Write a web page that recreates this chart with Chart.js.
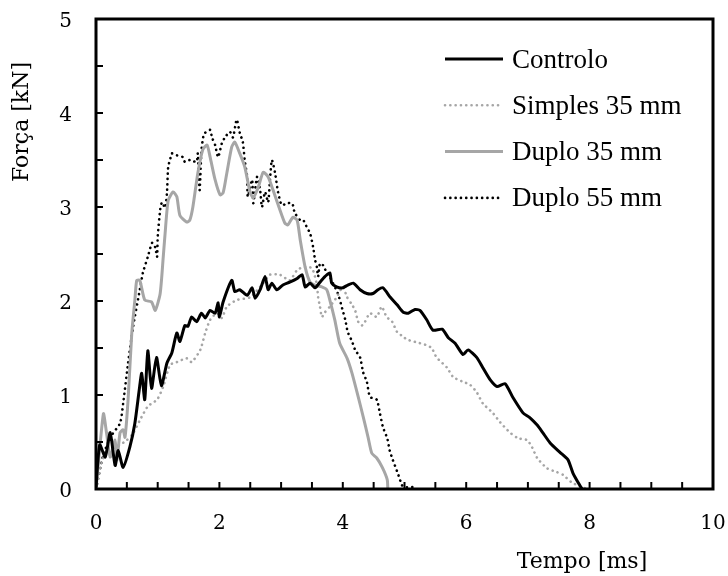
<!DOCTYPE html>
<html>
<head>
<meta charset="utf-8">
<script src="https://cdn.jsdelivr.net/npm/chart.js@4.4.1/dist/chart.umd.min.js"></script>
<style>
  html, body { margin: 0; padding: 0; background: #fff; }
</style>
</head>
<body>
<canvas id="forceChart" width="728" height="576"></canvas>
<script>
// tick labels
const xTickLabels = [0, 2, 4, 6, 8, 10];
const yTickLabels = [0, 1, 2, 3, 4, 5];

// Controlo
const controloT = [0, 0.06, 0.15, 0.23, 0.31, 0.36, 0.44, 0.55, 0.63, 0.70, 0.74, 0.79, 0.84, 0.90, 0.98, 1.06, 1.15, 1.23, 1.31, 1.36, 1.44, 1.49, 1.55, 1.63, 1.71, 1.77, 1.85, 1.93, 1.98, 2.00, 2.06, 2.20, 2.25, 2.33, 2.45, 2.53, 2.58, 2.66, 2.74, 2.79, 2.85, 2.93, 3.03, 3.14, 3.26, 3.34, 3.39, 3.47, 3.55, 3.63, 3.71, 3.79, 3.82, 3.90, 4.00, 4.08, 4.17, 4.28, 4.39, 4.49, 4.57, 4.65, 4.77, 4.88, 4.98, 5.06, 5.17, 5.25, 5.36, 5.46, 5.61, 5.71, 5.82, 5.95, 6.03, 6.17, 6.27, 6.39, 6.50, 6.63, 6.76, 6.92, 7.03, 7.15, 7.24, 7.36, 7.52, 7.65, 7.73, 7.84, 7.88];
const controloF = [0.02, 0.47, 0.34, 0.60, 0.25, 0.41, 0.23, 0.45, 0.70, 1.05, 1.23, 0.95, 1.47, 1.07, 1.40, 1.10, 1.34, 1.45, 1.66, 1.57, 1.74, 1.73, 1.83, 1.78, 1.87, 1.82, 1.90, 1.87, 1.98, 1.83, 1.99, 2.22, 2.10, 2.12, 2.06, 2.14, 2.03, 2.12, 2.26, 2.12, 2.19, 2.12, 2.17, 2.20, 2.24, 2.28, 2.15, 2.19, 2.14, 2.20, 2.26, 2.30, 2.19, 2.15, 2.14, 2.17, 2.19, 2.12, 2.08, 2.08, 2.12, 2.14, 2.04, 1.96, 1.88, 1.87, 1.91, 1.90, 1.80, 1.69, 1.70, 1.61, 1.55, 1.43, 1.48, 1.40, 1.29, 1.16, 1.09, 1.12, 0.97, 0.81, 0.76, 0.68, 0.60, 0.49, 0.39, 0.31, 0.17, 0.04, 0];

// Simples 35 mm
const simplesT = [0, 0.1, 0.2, 0.34, 0.5, 0.6, 0.71, 0.84, 0.99, 1.09, 1.2, 1.31, 1.47, 1.55, 1.69, 1.77, 1.85, 1.96, 2.04, 2.12, 2.28, 2.5, 2.71, 2.82, 2.98, 3.14, 3.26, 3.36, 3.5, 3.58, 3.6, 3.63, 3.66, 3.71, 3.79, 3.9, 4.0, 4.07, 4.15, 4.2, 4.25, 4.31, 4.36, 4.44, 4.55, 4.63, 4.71, 4.8, 4.88, 4.98, 5.04, 5.2, 5.36, 5.44, 5.52, 5.69, 5.79, 5.95, 6.06, 6.17, 6.27, 6.43, 6.55, 6.71, 6.84, 6.99, 7.07, 7.15, 7.31, 7.47, 7.57, 7.71, 7.87, 7.97];
const simplesF = [0, 0.30, 0.42, 0.45, 0.52, 0.59, 0.73, 0.88, 0.95, 1.09, 1.32, 1.35, 1.39, 1.35, 1.48, 1.66, 1.80, 1.87, 1.82, 1.94, 2.01, 2.04, 2.19, 2.28, 2.28, 2.22, 2.33, 2.36, 2.35, 2.17, 2.04, 1.94, 1.83, 1.88, 1.94, 2.04, 2.15, 2.04, 1.96, 1.90, 1.78, 1.74, 1.78, 1.87, 1.83, 1.94, 1.83, 1.78, 1.67, 1.62, 1.59, 1.56, 1.53, 1.50, 1.40, 1.29, 1.19, 1.14, 1.11, 1.03, 0.91, 0.81, 0.71, 0.60, 0.54, 0.52, 0.44, 0.33, 0.22, 0.18, 0.15, 0.07, 0.02, 0];

// Duplo 35 mm
const duplo35T = [0, 0.12, 0.17, 0.23, 0.31, 0.34, 0.39, 0.44, 0.47, 0.52, 0.58, 0.63, 0.66, 0.71, 0.79, 0.9, 0.96, 1.04, 1.09, 1.12, 1.17, 1.25, 1.31, 1.36, 1.47, 1.52, 1.57, 1.65, 1.73, 1.8, 1.85, 1.93, 2.01, 2.06, 2.12, 2.2, 2.25, 2.33, 2.41, 2.5, 2.55, 2.63, 2.71, 2.79, 2.87, 2.98, 3.06, 3.11, 3.19, 3.26, 3.31, 3.39, 3.47, 3.55, 3.66, 3.74, 3.79, 3.87, 3.95, 4.07, 4.15, 4.25, 4.33, 4.41, 4.47, 4.55, 4.64, 4.72, 4.73];
const duplo35F = [0, 0.80, 0.60, 0.34, 0.52, 0.31, 0.60, 0.63, 0.55, 0.95, 1.66, 2.01, 2.22, 2.22, 2.01, 1.99, 1.90, 2.08, 2.47, 2.72, 3.07, 3.16, 3.11, 2.91, 2.84, 2.86, 3.00, 3.36, 3.61, 3.66, 3.53, 3.29, 3.13, 3.15, 3.36, 3.64, 3.69, 3.57, 3.43, 3.15, 3.10, 3.21, 3.37, 3.32, 3.18, 2.97, 2.83, 2.81, 2.89, 2.86, 2.65, 2.36, 2.20, 2.17, 2.15, 2.12, 2.01, 1.80, 1.55, 1.39, 1.23, 0.98, 0.77, 0.55, 0.38, 0.33, 0.23, 0.10, 0];

// Duplo 55 mm
const duplo55T = [0, 0.11, 0.23, 0.39, 0.44, 0.52, 0.6, 0.71, 0.76, 0.84, 0.91, 0.96, 0.99, 1.0, 1.04, 1.07, 1.12, 1.15, 1.17, 1.2, 1.23, 1.31, 1.41, 1.44, 1.52, 1.63, 1.65, 1.68, 1.71, 1.75, 1.8, 1.85, 1.88, 1.93, 1.98, 2.04, 2.09, 2.17, 2.22, 2.28, 2.33, 2.38, 2.41, 2.45, 2.46, 2.53, 2.55, 2.61, 2.66, 2.69, 2.74, 2.79, 2.82, 2.85, 2.9, 2.95, 3.01, 3.1, 3.18, 3.22, 3.31, 3.36, 3.42, 3.47, 3.52, 3.55, 3.58, 3.6, 3.63, 3.68, 3.74, 3.79, 3.84, 3.92, 3.99, 4.04, 4.08, 4.15, 4.2, 4.28, 4.33, 4.39, 4.44, 4.55, 4.6, 4.65, 4.72, 4.76, 4.81, 4.89, 4.96, 5.0, 5.17];
const duplo55F = [0, 0.34, 0.55, 0.70, 0.91, 1.34, 1.72, 2.12, 2.30, 2.47, 2.62, 2.57, 2.47, 2.68, 2.97, 3.05, 2.99, 3.15, 3.43, 3.50, 3.57, 3.55, 3.53, 3.48, 3.50, 3.48, 3.57, 3.18, 3.61, 3.78, 3.80, 3.82, 3.74, 3.66, 3.53, 3.68, 3.74, 3.80, 3.74, 3.93, 3.79, 3.69, 3.50, 3.32, 3.11, 3.29, 3.04, 3.32, 3.18, 3.00, 3.16, 3.05, 3.29, 3.50, 3.37, 3.16, 3.02, 3.04, 3.04, 2.94, 2.86, 2.86, 2.78, 2.72, 2.57, 2.44, 2.36, 2.26, 2.40, 2.38, 2.30, 2.26, 2.19, 2.08, 1.92, 1.80, 1.67, 1.57, 1.48, 1.40, 1.24, 1.14, 0.98, 0.95, 0.81, 0.66, 0.54, 0.41, 0.31, 0.17, 0.04, 0.02, 0.02];

const GRAY = "#a6a6a6";
const pts = (t, f) => t.map((v, i) => ({ x: v, y: f[i] }));

const ctx = document.getElementById("forceChart").getContext("2d");

// frame, inward tick marks, legend and axis titles
const decorations = {
  id: "decorations",
  afterDraw(chart) {
    const { ctx, chartArea: a, scales } = chart;
    ctx.save();
    ctx.strokeStyle = "#000";
    ctx.lineWidth = 2;
    scales.x.ticks.forEach((t) => {
      const px = scales.x.getPixelForValue(t.value);
      ctx.beginPath();
      ctx.moveTo(px, a.bottom);
      ctx.lineTo(px, a.bottom - 7);
      ctx.stroke();
    });
    scales.y.ticks.forEach((t) => {
      const py = scales.y.getPixelForValue(t.value);
      ctx.beginPath();
      ctx.moveTo(a.left, py);
      ctx.lineTo(a.left + 7, py);
      ctx.stroke();
    });
    ctx.lineWidth = 3;
    ctx.strokeRect(a.left, a.top, a.right - a.left, a.bottom - a.top);

    // legend
    chart.data.datasets.forEach((ds, i) => {
      const y = 59 + i * 46.3;
      ctx.save();
      ctx.strokeStyle = ds.borderColor;
      ctx.lineWidth = ds.borderWidth;
      ctx.lineCap = ds.borderCapStyle || "butt";
      ctx.setLineDash(ds.borderDash || []);
      ctx.beginPath();
      ctx.moveTo(445, y);
      ctx.lineTo(503, y);
      ctx.stroke();
      ctx.restore();
      ctx.fillStyle = "#000";
      ctx.font = '27px "Liberation Serif"';
      ctx.textAlign = "left";
      ctx.textBaseline = "alphabetic";
      ctx.fillText(ds.label, 512, y + 8.5);
    });

    // axis titles
    ctx.fillStyle = "#000";
    ctx.font = '22px "DejaVu Serif"';
    ctx.textAlign = "center";
    ctx.textBaseline = "middle";
    ctx.fillText("Tempo [ms]", 582, 562);
    ctx.translate(22, 122);
    ctx.rotate(-Math.PI / 2);
    ctx.fillText("Força [kN]", 0, 0);
    ctx.restore();
  },
};

const line = (label, t, f, color, dotted) => ({
  label: label,
  data: pts(t, f),
  borderColor: color,
  borderWidth: dotted ? 2.6 : 3,
  borderDash: dotted ? [0.1, 5.2] : [],
  borderCapStyle: dotted ? "round" : "butt",
  borderJoinStyle: "round",
  pointRadius: 0,
  tension: 0.2,
  fill: false,
});

const forceChart = new Chart(ctx, {
  type: "line",
  data: {
    datasets: [
      line("Controlo", controloT, controloF, "#000", false),
      line("Simples 35 mm", simplesT, simplesF, GRAY, true),
      line("Duplo 35 mm", duplo35T, duplo35F, GRAY, false),
      line("Duplo 55 mm", duplo55T, duplo55F, "#000", true),
    ],
  },
  options: {
    responsive: false,
    animation: false,
    layout: { padding: { top: 19, right: 15, left: 0, bottom: 0 } },
    scales: {
      x: {
        type: "linear",
        min: 0,
        max: 10,
        afterFit: (scale) => {
          scale.height = 87;
          scale.paddingLeft = 0;
          scale.paddingRight = 0;
        },
        ticks: {
          stepSize: 0.5,
          autoSkip: false,
          maxRotation: 0,
          padding: 23,
          color: "#000",
          font: { family: "DejaVu Serif", size: 20 },
          callback: (v) => (xTickLabels.includes(v) ? v : ""),
        },
        grid: { display: false, drawTicks: false },
        border: { display: false },
      },
      y: {
        min: 0,
        max: 5,
        afterFit: (scale) => {
          scale.width = 96;
          scale.paddingTop = 0;
          scale.paddingBottom = 0;
        },
        ticks: {
          stepSize: 0.5,
          autoSkip: false,
          padding: 24,
          labelOffset: 3,
          color: "#000",
          font: { family: "DejaVu Serif", size: 20 },
          callback: (v) => (yTickLabels.includes(v) ? v : ""),
        },
        grid: { display: false, drawTicks: false },
        border: { display: false },
      },
    },
    plugins: {
      legend: { display: false },
      tooltip: { enabled: false },
    },
  },
  plugins: [decorations],
});
</script>
</body>
</html>
